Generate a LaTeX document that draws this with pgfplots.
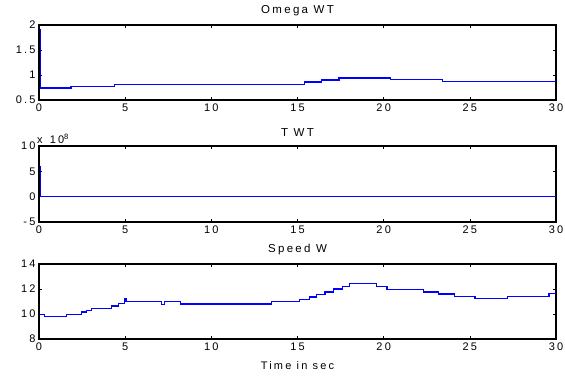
\documentclass[border=0pt]{standalone}
\usepackage{fontspec}
\setmainfont{Liberation Sans}[LetterSpace=20]
\usepackage{pgfplots}
\pgfplotsset{compat=1.18}
\begin{document}
\begin{tikzpicture}
\path[use as bounding box] (0pt,0pt) rectangle (565pt,378pt);
\pgfplotsset{
  mat/.style={
    scale only axis, width=517pt, anchor=south west,
    xmin=0, xmax=30, xtick={0,5,...,30},
    axis line style={black, line width=1.4pt},
    tick align=inside, major tick length=3pt,
    tick style={black, line width=0.6pt},
    ticklabel style={font=\fontsize{11}{13}\selectfont},
    /pgf/number format/assume math mode=true,
    title style={font=\fontsize{11.5}{13}\selectfont, at={(0.5,1)}, anchor=south, yshift=0pt},
    no markers, clip mode=individual,
    every axis plot/.append style={blue, line width=1.3pt, const plot},
  }
}
% Panel 1
\begin{axis}[mat, at={(39pt,278pt)}, height=75pt,
  ymin=0.5, ymax=2, ytick={0.5,1,1.5,2}, yticklabels={0.5,1,1.5,2},
  title={Omega WT}]
\addplot coordinates {(0.05,1.9)(0.08,0.74)(1.86,0.77)(4.4,0.81)(15.4,0.86)(16.4,0.9)(17.4,0.94)(20.4,0.91)(23.4,0.87)(30,0.87)};
\end{axis}
% Panel 2
\begin{axis}[mat, at={(39pt,156pt)}, height=76pt,
  ymin=-5, ymax=10, ytick={-5,0,5,10}, yticklabels={-5,0,5,10},
  title={T WT}]
\addplot coordinates {(0.05,5.9)(0.08,0)(30,0)};
\node[anchor=south west, font=\fontsize{11}{13}\selectfont, inner sep=0pt] at (rel axis cs:0,1) [xshift=-2pt, yshift=2pt] {x\, 10\textsuperscript{8}};
\end{axis}
% Panel 3
\begin{axis}[mat, at={(39pt,39pt)}, height=75pt,
  ymin=8, ymax=14, ytick={8,10,12,14}, yticklabels={8,10,12,14},
  title={Speed W},
  xlabel={Time in sec}, xlabel style={font=\fontsize{11}{13}\selectfont, yshift=-4pt}]
\addplot coordinates {(0.05,9.95)(0.3,9.81)(1.6,9.97)(2.48,10.16)(2.77,10.29)(3.06,10.45)(4.2,10.64)(4.6,10.83)(4.95,11.2)(5.05,11.01)(7.1,10.75)(7.3,11.01)(8.2,10.8)(13.5,11.01)(15.1,11.15)(15.7,11.36)(16.1,11.55)(16.6,11.76)(17.1,12.0)(17.6,12.21)(18.0,12.43)(19.6,12.21)(20.2,11.95)(22.3,11.76)(23.2,11.6)(24.1,11.41)(25.3,11.25)(27.2,11.41)(29.6,11.63)(30,11.63)};
\end{axis}
\end{tikzpicture}
\end{document}
